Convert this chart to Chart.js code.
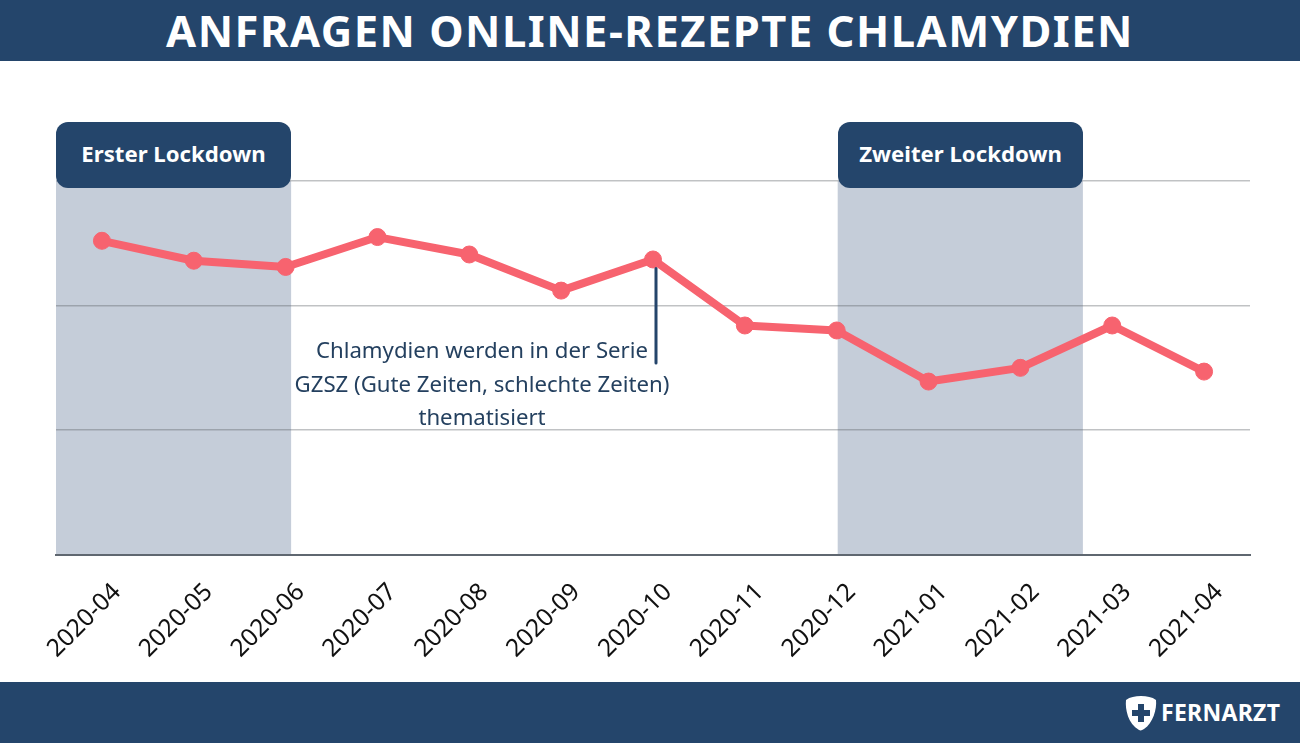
<!DOCTYPE html>
<html lang="de">
<head>
<meta charset="utf-8">
<title>Anfragen Online-Rezepte Chlamydien</title>
<script src="https://cdn.jsdelivr.net/npm/chart.js@4"></script>
<style>
html,body{margin:0;padding:0;background:#fff;overflow:hidden}
#wrap{position:relative;width:1300px;height:743px;font-family:"Noto Sans",sans-serif}
canvas{position:absolute;left:0;top:0}
.bar{position:absolute;left:0;width:1300px;height:61px;background:#24456b}
#head{top:0;color:#fff;font-weight:700;font-size:43.5px;line-height:61px;text-align:center;letter-spacing:1.5px;white-space:nowrap}
#foot{top:682px}
.tag{position:absolute;top:122px;height:66px;background:#24456b;border-radius:12px;color:#fff;font-weight:700;font-size:22.2px;line-height:63.5px;text-align:center}
#note{position:absolute;left:282px;top:333px;width:400px;text-align:center;color:#24405f;font-size:22.2px;line-height:33.5px;white-space:nowrap}
#logo{position:absolute;left:1161px;top:697px;color:#fff;font-weight:700;font-size:23px;line-height:31px;letter-spacing:.3px}
#shield{position:absolute;left:1124px;top:695px}
</style>
</head>
<body>
<div id="wrap">
<canvas id="c" width="1300" height="743"></canvas>
<div id="head" class="bar">ANFRAGEN ONLINE-REZEPTE CHLAMYDIEN</div>
<div id="foot" class="bar"></div>
<div class="tag" style="left:56px;width:235px">Erster Lockdown</div>
<div class="tag" style="left:838px;width:245px">Zweiter Lockdown</div>
<div id="note">Chlamydien werden in der Serie<br>GZSZ (Gute Zeiten, schlechte Zeiten)<br>thematisiert</div>
<svg id="shield" width="34" height="36" viewBox="0 0 34 36">
<path d="M17 1C11 1 6 2 2 5C1 14 4 29 15 35C17 36 18 35 20 34C29 28 33 14 32 5C28 2 23 1 17 1Z" fill="#fff"/>
<path d="M14 9H20V15H26V21H20V27H14V21H8V15H14Z" fill="#24456b"/>
</svg>
<div id="logo">FERNARZT</div>
</div>
<script>
const months = ['2020-04','2020-05','2020-06','2020-07','2020-08','2020-09','2020-10','2020-11','2020-12','2021-01','2021-02','2021-03','2021-04'];
const requests = [126,118,115.5,127.5,120.5,106,118.5,92,90,69.5,75,92,73.5];
const yTicks = [0,50,100,150];
const lockdownStart = ['2020-04','2020-12'];
const lockdownEnd = ['2020-06','2021-02'];
const noteMonth = '2020-10';

const overlay = {
  id:'overlay',
  beforeDraw(ch){
    const {ctx,chartArea:a,scales:{x,y}} = ch;
    ctx.save();
    ctx.fillStyle='#c5cdd9';
    const l1=a.left, r1=x.getPixelForValue(months.indexOf(lockdownEnd[0]))+5.5;
    const l2=x.getPixelForValue(months.indexOf(lockdownStart[1]))+1, r2=x.getPixelForValue(months.indexOf(lockdownEnd[1]))+62.5;
    ctx.fillRect(l1,a.top,r1-l1,a.bottom-a.top);
    ctx.fillRect(l2,a.top,r2-l2,a.bottom-a.top);
    ctx.restore();
  },
  afterDatasetsDraw(ch){
    const {ctx,scales:{x,y}} = ch;
    const i=months.indexOf(noteMonth);
    const px=x.getPixelForValue(i)+3;
    ctx.save();
    ctx.strokeStyle='#24456b';ctx.lineWidth=3;ctx.lineCap='round';
    ctx.beginPath();ctx.moveTo(px,y.getPixelForValue(requests[i])+9);ctx.lineTo(px,363);ctx.stroke();
    ctx.restore();
  }
};

new Chart(document.getElementById('c'),{
  type:'line',
  data:{labels:months,datasets:[{data:requests,borderColor:'#f7636f',backgroundColor:'#f7636f',borderWidth:8,pointRadius:8.5,pointBorderWidth:1,pointHoverRadius:8.5,tension:0,borderJoinStyle:'round',clip:false}]},
  plugins:[overlay],
  options:{
    responsive:false,animation:false,
    layout:{padding:{left:56,right:50,top:181,bottom:0}},
    plugins:{legend:{display:false},tooltip:{enabled:false},title:{display:false}},
    scales:{
      x:{
        offset:true,
        afterFit(s){s.height=188.3;},
        grid:{display:false},
        border:{display:true,color:'#5f6770',width:2},
        ticks:{minRotation:45,maxRotation:45,autoSkip:false,padding:15,labelOffset:15,color:'#111',font:{family:'"Noto Sans"',size:24.5}}
      },
      y:{
        display:true,min:0,max:150,
        afterFit(s){s.width=0;},
        afterBuildTicks(s){s.ticks=yTicks.map(v=>({value:v}));},
        grid:{color:'rgba(90,95,100,0.38)',lineWidth:1.5,drawTicks:false},
        border:{display:false},
        ticks:{display:false}
      }
    }
  }
});
</script>
</body>
</html>
